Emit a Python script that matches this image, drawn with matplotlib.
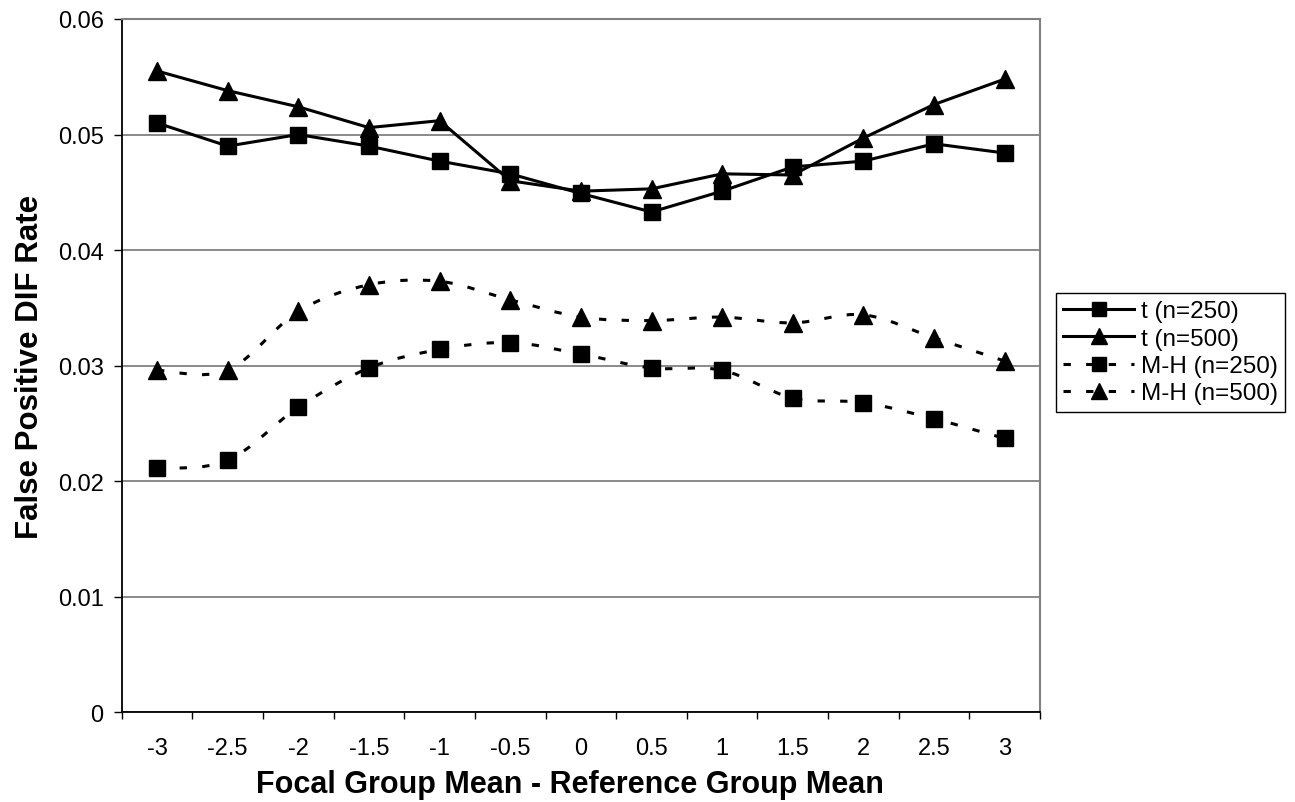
import numpy as np
import matplotlib
matplotlib.use("Agg")
from matplotlib import pyplot as plt
from matplotlib.path import Path
from matplotlib.patches import PathPatch
from matplotlib.lines import Line2D

plt.rcParams['font.family'] = ['Liberation Sans', 'DejaVu Sans']

# Data
mean_diff = [-3, -2.5, -2, -1.5, -1, -0.5, 0, 0.5, 1, 1.5, 2, 2.5, 3]
tick_labels = ["-3", "-2.5", "-2", "-1.5", "-1", "-0.5", "0", "0.5", "1", "1.5", "2", "2.5", "3"]

t_250 = [0.0510, 0.0490, 0.0500, 0.0490, 0.0477, 0.0466, 0.0449,
         0.0433, 0.0451, 0.0472, 0.0477, 0.0492, 0.0484]
t_500 = [0.0555, 0.0538, 0.0524, 0.0506, 0.0512, 0.0460, 0.0451,
         0.0453, 0.0466, 0.0465, 0.0497, 0.0526, 0.0548]
mh_250 = [0.0211, 0.0218, 0.0264, 0.0298, 0.0314, 0.0320, 0.0310,
          0.0298, 0.0296, 0.0272, 0.0268, 0.0254, 0.0237]
mh_500 = [0.0296, 0.0296, 0.0347, 0.0370, 0.0373, 0.0357, 0.0342,
          0.0339, 0.0342, 0.0337, 0.0344, 0.0324, 0.0304]

series_names = ["t (n=250)", "t (n=500)", "M-H (n=250)", "M-H (n=500)"]


def smooth_path(x, y):
    # Excel-style smoothed line: cubic bezier segments through the points
    x = np.asarray(x, float)
    y = np.asarray(y, float)
    n = len(x)
    verts = [(x[0], y[0])]
    codes = [Path.MOVETO]
    for i in range(n - 1):
        i0 = max(i - 1, 0)
        i2 = min(i + 2, n - 1)
        c1 = (x[i] + (x[i + 1] - x[i0]) / 6, y[i] + (y[i + 1] - y[i0]) / 6)
        c2 = (x[i + 1] - (x[i2] - x[i]) / 6, y[i + 1] - (y[i2] - y[i]) / 6)
        verts += [c1, c2, (x[i + 1], y[i + 1])]
        codes += [Path.CURVE4] * 3
    return Path(verts, codes)


lw = 2.2
dash = (0, (2.4, 5))
sq_ms = 11
tri_ms = 13

fig = plt.figure(figsize=(12.95, 8.03), dpi=100)
ax = fig.add_axes([0.094, 0.1117, 0.7091, 0.8634])

ax.plot(mean_diff, t_250, color='black', lw=lw, marker='s', ms=sq_ms, zorder=3)
ax.plot(mean_diff, t_500, color='black', lw=lw, marker='^', ms=tri_ms, zorder=3)

for yv, mk, ms in [(mh_250, 's', sq_ms), (mh_500, '^', tri_ms)]:
    ax.add_patch(PathPatch(smooth_path(mean_diff, yv), fill=False, edgecolor='black',
                           lw=lw, linestyle=dash, zorder=3))
    ax.plot(mean_diff, yv, linestyle='none', color='black', marker=mk, ms=ms, zorder=4)

ax.set_xlim(-3.25, 3.25)
ax.set_ylim(0, 0.06)
ax.set_yticks([0, 0.01, 0.02, 0.03, 0.04, 0.05, 0.06])
ax.set_yticklabels(["0", "0.01", "0.02", "0.03", "0.04", "0.05", "0.06"])
ax.set_xticks(mean_diff)
ax.set_xticklabels(tick_labels)
ax.set_xticks(np.arange(-3.25, 3.26, 0.5), minor=True)
ax.tick_params(axis='x', which='major', length=0, pad=18, labelsize=17)
ax.tick_params(axis='x', which='minor', length=5, width=1, direction='out')
ax.tick_params(axis='y', length=6, width=1, direction='out', pad=7, labelsize=17)

ax.yaxis.grid(True, color='#808080', lw=1.3)
ax.set_axisbelow(True)
for side in ['top', 'right']:
    ax.spines[side].set_color('#808080')
    ax.spines[side].set_linewidth(1.5)
for side in ['left', 'bottom']:
    ax.spines[side].set_color('black')
    ax.spines[side].set_linewidth(1.3)

ax.set_xlabel("Focal Group Mean - Reference Group Mean", fontsize=22,
              fontweight='bold')
ax.xaxis.set_label_coords(0.488, -0.082)
ax.set_ylabel("False Positive DIF Rate", fontsize=22.5, fontweight='bold')
ax.yaxis.set_label_coords(-0.084, 0.5)

handles = [
    Line2D([], [], color='black', lw=lw, marker='s', ms=10),
    Line2D([], [], color='black', lw=lw, marker='^', ms=11),
    Line2D([], [], color='black', lw=lw, ls=dash, marker='s', ms=10),
    Line2D([], [], color='black', lw=lw, ls=dash, marker='^', ms=11),
]
leg = fig.legend(handles, series_names, loc='upper left',
                 bbox_to_anchor=(1056 / 1295, 1 - 294 / 803),
                 fontsize=17.5, frameon=True, fancybox=False, framealpha=1,
                 edgecolor='black', handlelength=2.9, handletextpad=0.3,
                 borderpad=0.3, labelspacing=0.22, borderaxespad=0)
leg.get_frame().set_linewidth(1)

fig.savefig("out.png", dpi=100)
